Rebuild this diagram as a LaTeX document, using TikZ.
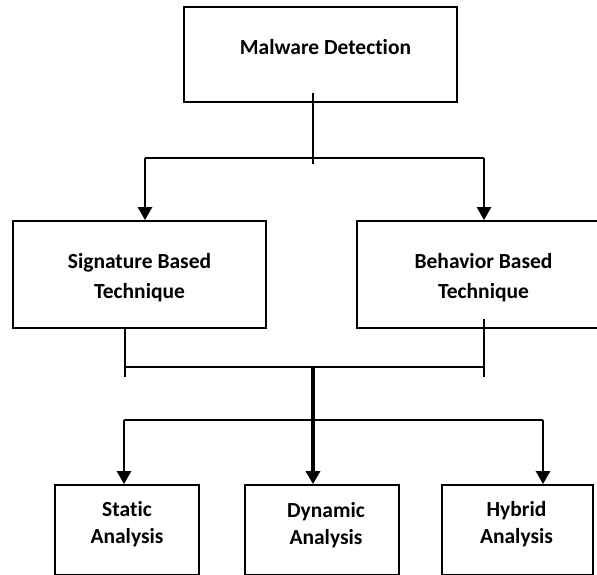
\documentclass[tikz,border=0pt]{standalone}
\usepackage{fontspec}
\setmainfont{Carlito}[Ligatures=NoCommon]
\usetikzlibrary{arrows.meta}
\begin{document}
\begin{tikzpicture}[x=1pt,y=-1pt,
  box/.style={draw=black, line width=1.8pt, rectangle, inner sep=0pt},
  txt/.style={font=\bfseries\fontsize{21.5pt}{30pt}\selectfont, align=center, inner sep=0pt},
  txtb/.style={font=\bfseries\fontsize{21.5pt}{27pt}\selectfont, align=center, inner sep=0pt},
  thinline/.style={line width=1.6pt},
  arr/.style={line width=2.6pt, -{Triangle[length=13pt,width=14pt]}},
  thickarr/.style={line width=3.2pt, -{Triangle[length=13pt,width=14pt]}}]
\useasboundingbox (0,0) rectangle (597,574);
\clip (0,0) rectangle (597,574);
% boxes
\node[box, minimum width=273pt, minimum height=95pt,
  label={[txt, xshift=5pt, yshift=7pt]center:Malware Detection}] (md) at (320.5,54.5) {};
\node[box, minimum width=253pt, minimum height=107pt,
  label={[txt, yshift=-3.5pt]center:Signature Based\\Technique}] (sig) at (139.5,274.5) {};
\node[box, minimum width=255pt, minimum height=107pt,
  label={[txt, xshift=-1pt, yshift=-3pt]center:Behavior Based\\Technique}] (beh) at (484.5,274.5) {};
\node[box, minimum width=144pt, minimum height=90pt,
  label={[txtb, xshift=0pt, yshift=5.7pt]center:Static\\Analysis}] (sta) at (127,530) {};
\node[box, minimum width=154pt, minimum height=90pt,
  label={[txtb, xshift=4pt, yshift=4.5pt]center:Dynamic\\Analysis}] (dyn) at (322,530) {};
\node[box, minimum width=151pt, minimum height=90pt,
  label={[txtb, xshift=-1pt, yshift=5.7pt]center:Hybrid\\Analysis}] (hyb) at (517.5,530) {};
% junction coordinates
\coordinate (ms) at (313,93);
\coordinate (me) at (313,164);
\coordinate (ja) at (145,158);
\coordinate (jb) at (484,158);
\coordinate (ls) at (125,328);
\coordinate (le) at (125,377);
\coordinate (rs) at (484,319);
\coordinate (re) at (484,377);
\coordinate (ha) at (125,367);
\coordinate (hb) at (484,367);
\coordinate (hc) at (313,367);
\coordinate (ka) at (124,420);
\coordinate (kb) at (543,420);
% connectors
\draw[thinline] (ms) -- (me);
\draw[thinline] (ja) -- (jb);
\draw[arr] (ja) -- (ja |- sig.north);
\draw[arr] (jb) -- (jb |- beh.north);
\draw[thinline] (ls) -- (le);
\draw[thinline] (rs) -- (re);
\draw[thinline] (ha) -- (hb);
\draw[thickarr] (hc) -- (hc |- dyn.north);
\draw[thinline] (ka) -- (kb);
\draw[arr] (ka) -- (ka |- sta.north);
\draw[arr] (kb) -- (kb |- hyb.north);
\end{tikzpicture}
\end{document}
